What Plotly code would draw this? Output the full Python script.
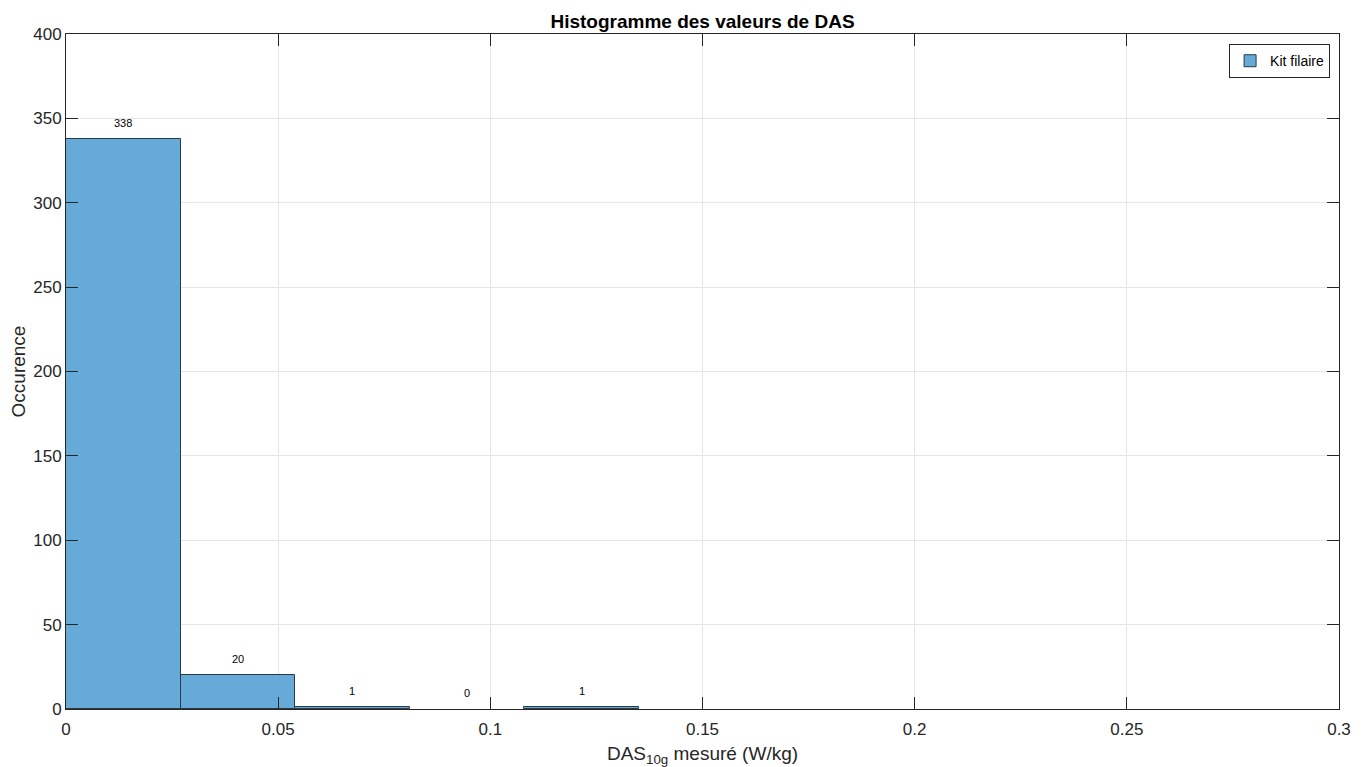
import plotly.graph_objects as go

bin_edges = [0.0, 0.027, 0.054, 0.081, 0.108, 0.135]
counts = [338, 20, 1, 0, 1]
series_name = "Kit filaire"
x_ticks = [0, 0.05, 0.1, 0.15, 0.2, 0.25, 0.3]
x_tick_labels = ["0", "0.05", "0.1", "0.15", "0.2", "0.25", "0.3"]
y_ticks = [0, 50, 100, 150, 200, 250, 300, 350, 400]

centers = [(a + b) / 2 for a, b in zip(bin_edges[:-1], bin_edges[1:])]
widths = [b - a for a, b in zip(bin_edges[:-1], bin_edges[1:])]
edge_w = [1 if n > 0 else 0 for n in counts]

FONT = "Liberation Sans, Arial, Helvetica, sans-serif"
AX = "#262626"

fig = go.Figure()
fig.add_trace(go.Bar(
    x=centers, y=counts, width=widths, name=series_name,
    marker=dict(color="rgb(102,170,215)", line=dict(color="#2b3a44", width=edge_w)),
    showlegend=True,
))

for c, n in zip(centers, counts):
    fig.add_annotation(x=c, y=n, text=str(n), showarrow=False, yshift=16,
                       font=dict(family=FONT, size=11, color="black"))

axis_common = dict(
    showline=True, linecolor=AX, linewidth=1, mirror="ticks",
    ticks="inside", ticklen=12, tickcolor=AX, tickwidth=1,
    showgrid=True, gridcolor="#e6e6e6", gridwidth=1, zeroline=False,
    tickfont=dict(family=FONT, size=17, color=AX), automargin=False,
)

fig.update_xaxes(range=[0, 0.3], tickvals=x_ticks, ticktext=x_tick_labels,
                 ticklabelstandoff=5,
                 title=dict(text="DAS<sub>10g</sub> mesuré (W/kg)", standoff=9,
                            font=dict(family=FONT, size=19, color=AX)),
                 **axis_common)
fig.update_yaxes(range=[0, 400], tickvals=y_ticks,
                 title=dict(text="Occurence", standoff=6,
                            font=dict(family=FONT, size=19, color=AX)),
                 **axis_common)

# page body has an 8px margin: shrink the figure so the plot area lands where the reference has it
fig.update_layout(
    width=1357, height=759,
    margin=dict(l=58, r=26, t=26, b=58, autoexpand=False),
    plot_bgcolor="white", paper_bgcolor="white",
    title=dict(text="<b>Histogramme des valeurs de DAS</b>", x=0.5, xref="paper",
               xanchor="center", y=1, yref="paper", yanchor="bottom", pad=dict(b=6),
               font=dict(family=FONT, size=19, color="black")),
    legend=dict(x=0.993, y=0.985, xanchor="right", yanchor="top",
                bgcolor="white", bordercolor=AX, borderwidth=1,
                font=dict(family=FONT, size=14, color="black"),
                itemwidth=30, tracegroupgap=0),
    bargap=0,
)

fig.write_html("out.html")
